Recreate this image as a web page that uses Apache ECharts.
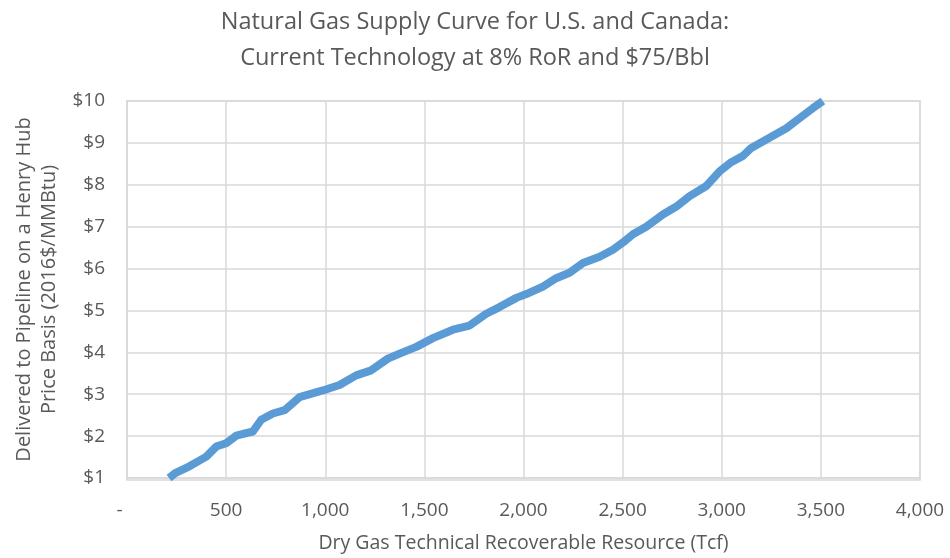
<!DOCTYPE html>
<html>
<head>
<meta charset="utf-8">
<script src="https://cdn.jsdelivr.net/npm/echarts@6/dist/echarts.min.js"></script>
<style>
  html, body { margin: 0; padding: 0; background: #fff; }
  #chart { width: 950px; height: 558px; }
</style>
</head>
<body>
<div id="chart"></div>
<script>
// Cumulative dry gas resource (Tcf) and the breakeven price at that point
const resourceTcf = [
  212, 248, 315, 400, 450, 500, 551, 635, 677, 736, 795, 870, 988, 1072,
  1156, 1232, 1316, 1375, 1459, 1543, 1644, 1728, 1812, 1879, 1964, 2014,
  2098, 2165, 2232, 2300, 2384, 2451, 2501, 2552, 2619, 2703, 2771, 2838,
  2922, 2989, 3048, 3107, 3149, 3225, 3326, 3393, 3460, 3510
];
const pricePerMMBtu = [
  1.00, 1.13, 1.28, 1.51, 1.75, 1.83, 2.01, 2.11, 2.39, 2.54, 2.62, 2.93, 3.09, 3.22,
  3.45, 3.57, 3.85, 3.97, 4.13, 4.34, 4.54, 4.64, 4.92, 5.08, 5.30, 5.39,
  5.57, 5.77, 5.90, 6.13, 6.28, 6.45, 6.62, 6.82, 7.00, 7.29, 7.48, 7.73,
  7.97, 8.32, 8.54, 8.69, 8.88, 9.08, 9.35, 9.59, 9.83, 10.0
];

const titleLines = [
  'Natural Gas Supply Curve for U.S. and Canada:',
  'Current Technology at 8% RoR and $75/Bbl'
];
const xAxisTitle = 'Dry Gas Technical Recoverable Resource (Tcf)';
const yAxisTitle = 'Delivered to Pipeline on a Henry Hub\nPrice Basis (2016$/MMBtu)';

const FONT = '"Open Sans", "Noto Sans", sans-serif';
const TEXT = '#595959';
const GRID = '#D9D9D9';

const chart = echarts.init(document.getElementById('chart'), null, { renderer: 'canvas' });

chart.setOption({
  animation: false,
  backgroundColor: '#ffffff',
  title: {
    text: titleLines.join('\n'),
    left: 'center',
    top: -1,
    textStyle: {
      fontFamily: FONT,
      fontWeight: 'normal',
      fontSize: 23.5,
      lineHeight: 36,
      color: TEXT
    }
  },
  grid: { left: 127, right: 30, top: 101, bottom: 78, containLabel: false },
  xAxis: {
    type: 'value',
    min: 0,
    max: 4000,
    interval: 500,
    name: xAxisTitle,
    nameLocation: 'middle',
    nameGap: 55,
    nameTextStyle: { fontFamily: FONT, fontSize: 19.5, color: TEXT },
    axisLine: { show: true, lineStyle: { color: GRID, width: 1.5 } },
    axisTick: { show: false },
    splitLine: { show: true, lineStyle: { color: GRID, width: 1.5 } },
    axisLabel: {
      margin: 23,
      fontFamily: FONT,
      fontSize: 19,
      color: TEXT,
      // accounting-style zero: a dash padded on the right
      formatter: v => v === 0 ? '-   ' : v.toLocaleString('en-US')
    }
  },
  yAxis: {
    type: 'value',
    min: 1,
    max: 10,
    interval: 1,
    name: yAxisTitle,
    nameLocation: 'middle',
    nameGap: 58,
    nameTextStyle: { fontFamily: FONT, fontSize: 20, color: TEXT, lineHeight: 25 },
    axisLine: { show: true, lineStyle: { color: GRID, width: 1.5 } },
    axisTick: { show: false },
    splitLine: { show: true, lineStyle: { color: GRID, width: 1.5 } },
    axisLabel: {
      margin: 22,
      fontFamily: FONT,
      fontSize: 19,
      color: TEXT,
      formatter: v => '$' + v
    }
  },
  series: [{
    type: 'line',
    data: resourceTcf.map((x, i) => [x, pricePerMMBtu[i]]),
    showSymbol: false,
    smooth: false,
    clip: true,
    lineStyle: { color: '#5B9BD5', width: 8, cap: 'butt', join: 'round' }
  }],
  graphic: [{
    // right and top border of the plot area
    type: 'rect',
    shape: { x: 127, y: 101, width: 793, height: 379 },
    style: { fill: 'none', stroke: GRID, lineWidth: 1.5 },
    silent: true,
    z: -1
  }]
});
</script>
</body>
</html>
